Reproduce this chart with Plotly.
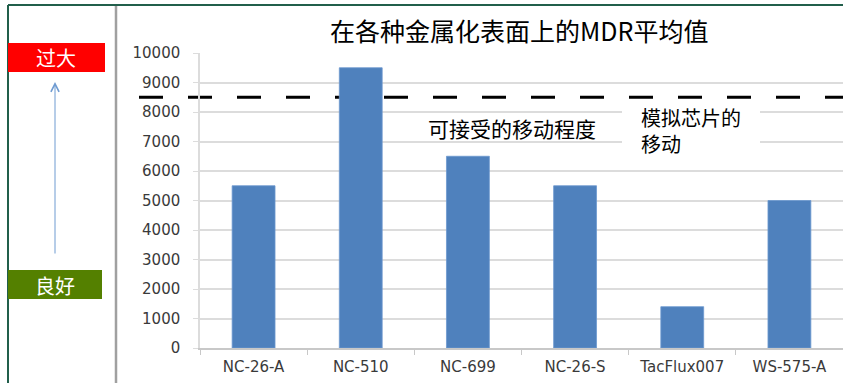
import plotly.graph_objects as go

# ---- data ----
categories = ["NC-26-A", "NC-510", "NC-699", "NC-26-S", "TacFlux007", "WS-575-A"]
mdr_values = [5500, 9500, 6500, 5500, 1400, 5000]
threshold = 8500
y_ticks = [0, 1000, 2000, 3000, 4000, 5000, 6000, 7000, 8000, 9000, 10000]

title_text = "在各种金属化表面上的MDR平均值"
accept_text = "可接受的移动程度"
sim_text = "模拟芯片的<br>移动"
high_text = "过大"
good_text = "良好"

# ---- layout geometry ----
W, H = 843, 383
L, R, T, B = 200, 0, 53, 35
PW, PH = W - L - R, H - T - B

def px(x):
    return (x - L) / PW

def py(y):
    return (H - B - y) / PH

CJK = "Noto Sans CJK SC"
TICKFONT = dict(family="DejaVu Sans", size=15, color="#3A3A3A")

fig = go.Figure()
fig.add_trace(go.Bar(
    x=categories, y=mdr_values, width=0.4,
    marker=dict(color="#4F81BD", line=dict(color="#6C98CF", width=0.8)),
))

shapes = []
# dashed threshold line (extends into the label area)
shapes.append(dict(type="line", xref="paper", yref="y", x0=px(139), x1=1.0,
                   y0=threshold, y1=threshold, layer="below",
                   line=dict(color="black", width=3, dash="24px,25px")))
# frame lines
shapes.append(dict(type="line", xref="paper", yref="paper", x0=px(8), x1=px(843),
                   y0=py(5), y1=py(5), line=dict(color="#215F4B", width=2), layer="above"))
shapes.append(dict(type="line", xref="paper", yref="paper", x0=px(8), x1=px(8),
                   y0=py(5), y1=py(384), line=dict(color="#215F4B", width=2), layer="above"))
shapes.append(dict(type="line", xref="paper", yref="paper", x0=px(116), x1=px(116),
                   y0=py(6), y1=py(384), line=dict(color="#A0A0A0", width=2.5), layer="above"))
# red and green boxes
shapes.append(dict(type="rect", xref="paper", yref="paper", x0=px(8), x1=px(105),
                   y0=py(72), y1=py(43), fillcolor="#FF0000", line=dict(width=0), layer="above"))
shapes.append(dict(type="rect", xref="paper", yref="paper", x0=px(8), x1=px(102),
                   y0=py(299), y1=py(270), fillcolor="#548000", line=dict(width=0), layer="above"))
# white box behind the simulated-chip note
shapes.append(dict(type="rect", xref="paper", yref="paper", x0=px(622), x1=px(760),
                   y0=py(156), y1=py(104), fillcolor="white", line=dict(width=0), layer="above"))

def note(text, x, y, size, color="black", xanchor="center", align="center"):
    return dict(text=text, xref="paper", yref="paper", x=px(x), y=py(y),
                xanchor=xanchor, yanchor="middle", align=align, showarrow=False,
                font=dict(family=CJK, size=size, color=color))

annotations = [
    note(title_text, 519, 30, 25),
    note(accept_text, 512, 128, 21),
    note(sim_text, 639, 130, 20, xanchor="left", align="left"),
    note(high_text, 56, 57, 20, color="white"),
    note(good_text, 55, 285, 20, color="white"),
    dict(text="", xref="paper", yref="paper", x=px(55), y=py(82),
         ax=0, ay=173, showarrow=True, arrowhead=5, arrowsize=1.6,
         arrowwidth=1, arrowcolor="#6F9BD1"),
]

fig.update_layout(
    width=W, height=H,
    margin=dict(l=L, r=R, t=T, b=B, pad=0),
    paper_bgcolor="white", plot_bgcolor="rgba(0,0,0,0)",
    showlegend=False, bargap=0.6,
    shapes=shapes, annotations=annotations,
    xaxis=dict(showgrid=False, showline=True, linecolor="#C8C8C8", linewidth=1.5,
               ticks="outside", tickson="boundaries", ticklen=5, tickcolor="#C8C8C8",
               tickfont=TICKFONT, ticklabelstandoff=4),
    yaxis=dict(range=[0, 10000], tickvals=y_ticks, tickformat="d",
               showgrid=True, gridcolor="#DCDCDC", gridwidth=1.5,
               showline=True, linecolor="#DCDCDC", linewidth=1.5,
               ticks="outside", ticklen=5, tickcolor="#DCDCDC",
               tickfont=TICKFONT, ticklabelstandoff=10, zeroline=False),
)

fig.write_html("out.html")
